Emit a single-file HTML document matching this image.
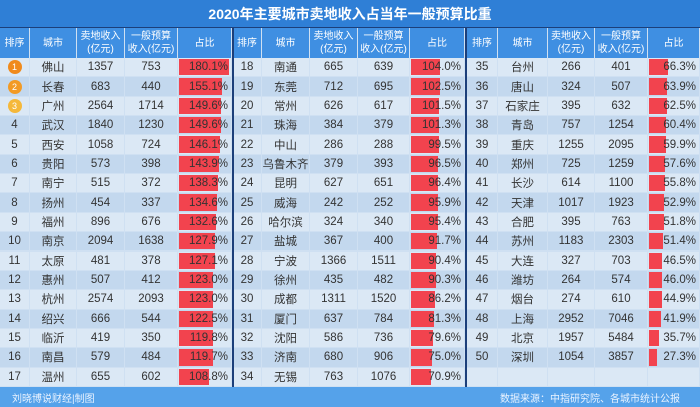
<!DOCTYPE html>
<html><head><meta charset="utf-8">
<style>
body{margin:0;width:700px;height:407px;overflow:hidden;background:#cfe0f2;font-family:"Liberation Sans","Noto Sans CJK SC",sans-serif;}
#wrap{position:relative;width:700px;height:407px;}
.a{position:absolute;box-sizing:border-box;}
.t{display:flex;align-items:center;justify-content:center;color:#333;font-size:11.5px;white-space:nowrap;}
.h{color:#fff;font-size:10px;line-height:13px;text-align:center;}
</style></head>
<body>
<div id="wrap">
<div class="a t" style="left:0;top:0;width:700px;height:27px;background:#2f7fd6;color:#fff;font-size:14px;font-weight:bold;">2020年主要城市卖地收入占当年一般预算比重</div>
<div class="a" style="left:0;top:27px;width:700px;height:1px;background:#1c3f7a"></div>
<div class="a t" style="left:0;top:387px;width:700px;height:20px;background:#55a2ea;" ></div>
<div class="a t" style="left:12px;top:387px;height:20px;color:#eaf3ff;font-size:10px;">刘晓博说财经|制图</div>
<div class="a t" style="left:500px;top:387px;height:20px;color:#eaf3ff;font-size:10px;">数据来源：中指研究院、各城市统计公报</div>
</div>
<script>
const ranks=[[1,2,3,4,5,6,7,8,9,10,11,12,13,14,15,16,17],[18,19,20,21,22,23,24,25,26,27,28,29,30,31,32,33,34],[35,36,37,38,39,40,41,42,43,44,45,46,47,48,49,50]];
const cities=[["佛山","长春","广州","武汉","西安","贵阳","南宁","扬州","福州","南京","太原","惠州","杭州","绍兴","临沂","南昌","温州"],["南通","东莞","常州","珠海","中山","乌鲁木齐","昆明","威海","哈尔滨","盐城","宁波","徐州","成都","厦门","沈阳","济南","无锡"],["台州","唐山","石家庄","青岛","重庆","郑州","长沙","天津","合肥","苏州","大连","潍坊","烟台","上海","北京","深圳"]];
const landIncome=[[1357,683,2564,1840,1058,573,515,454,896,2094,481,507,2574,666,419,579,655],[665,712,626,384,286,379,627,242,324,367,1366,435,1311,637,586,680,763],[266,324,395,757,1255,725,614,1017,395,1183,327,264,274,2952,1957,1054]];
const budget=[[753,440,1714,1230,724,398,372,337,676,1638,378,412,2093,544,350,484,602],[639,695,617,379,288,393,651,252,340,400,1511,482,1520,784,736,906,1076],[401,507,632,1254,2095,1259,1100,1923,763,2303,703,574,610,7046,5484,3857]];
const ratio=[[180.1,155.1,149.6,149.6,146.1,143.9,138.3,134.6,132.6,127.9,127.1,123.0,123.0,122.5,119.8,119.7,108.8],[104.0,102.5,101.5,101.3,99.5,96.5,96.4,95.9,95.4,91.7,90.4,90.3,86.2,81.3,79.6,75.0,70.9],[66.3,63.9,62.5,60.4,59.9,57.6,55.8,52.9,51.8,51.4,46.5,46.0,44.9,41.9,35.7,27.3]];
const headers=["排序","城市","卖地收入<br>(亿元)","一般预算<br>收入(亿元)","占比"];
const W=document.getElementById('wrap');
const groups=[[0,30,77,125,178,232],[233,262,310,358,410,465],[467,498,548,595,648,700]];
const top0=58,rh=19.35,hTop=28;
function mk(cls,l,t,w,h,bg,html){const d=document.createElement('div');d.className='a '+cls;d.style.cssText=`left:${l}px;top:${t}px;width:${w}px;height:${h}px;`+(bg?`background:${bg};`:'');if(html!=null)d.innerHTML=html;W.appendChild(d);return d;}
const bxScale=0.28;
groups.forEach((g,gi)=>{
  for(let c=0;c<5;c++){
    const d=mk('t h',g[c],hTop,g[c+1]-g[c]-1,30,'#3f8fe2',headers[c]);
    
    
  }
  for(let r=0;r<17;r++){
    const y=top0+r*rh;
    const bg=r%2?'#c3d8ee':'#dbe8f5';
    const has=r<ranks[gi].length;
    const vals=has?[ranks[gi][r],cities[gi][r],landIncome[gi][r],budget[gi][r],ratio[gi][r].toFixed(1)+'%']:['','','','',''];
    for(let c=0;c<5;c++){
      const cell=mk('t',g[c],y,g[c+1]-g[c]-1,rh-1,bg,null);
      
      
      if(c===4&&has){
        const bar=mk('',g[c]+1,y+1,ratio[gi][r]*bxScale,rh-3,'#f2434e',null);
        
        
        const tx=mk('t',g[c],y,g[c+1]-g[c],rh-1,null,vals[c]);
        tx.style.justifyContent='flex-end';tx.style.paddingRight='4px';
        
        
      } else if(c===0&&has&&gi===0&&r<3){
        const cl=['#f08a1c','#f29a24','#f5b83a'][r];
        cell.innerHTML=`<span style="display:inline-flex;width:14px;height:14px;border-radius:50%;background:${cl};color:#fff;font-size:9px;align-items:center;justify-content:center">${vals[c]}</span>`;
      } else cell.textContent=vals[c];
    }
  }
});
[232,465].forEach(x=>{const d=mk('',x,28,2,359,'#1c3f7a',null);});
</script>
</body></html>
